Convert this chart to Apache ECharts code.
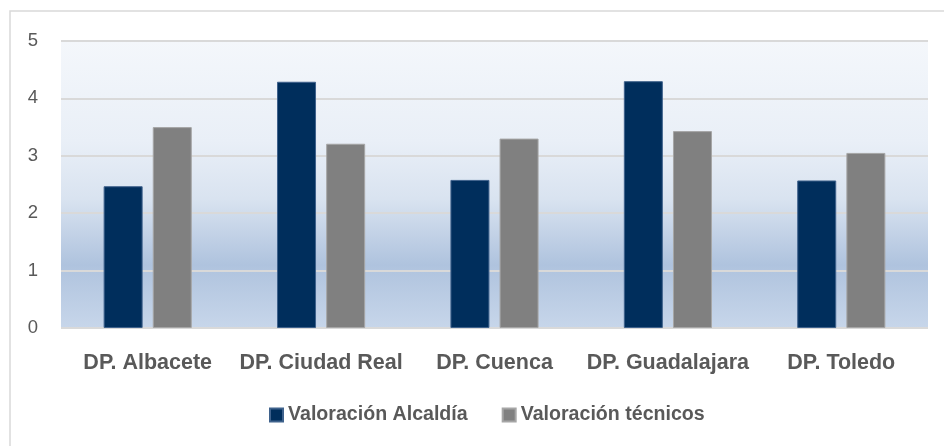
<!DOCTYPE html>
<html>
<head>
<meta charset="utf-8">
<script src="https://cdn.jsdelivr.net/npm/echarts@6/dist/echarts.min.js"></script>
<style>
  html, body { margin: 0; padding: 0; background: #fff; }
  #chart { width: 944px; height: 446px; }
</style>
</head>
<body>
<div id="chart"></div>
<script>
var categories = ['DP. Albacete', 'DP. Ciudad Real', 'DP. Cuenca', 'DP. Guadalajara', 'DP. Toledo'];
var alcaldia = [2.47, 4.29, 2.58, 4.30, 2.57];
var tecnicos = [3.50, 3.21, 3.30, 3.43, 3.05];
var yTicks = [0, 1, 2, 3, 4, 5];

var myChart = echarts.init(document.getElementById('chart'));

var option = {
  animation: false,
  backgroundColor: '#fff',
  graphic: [{
    type: 'rect',
    shape: { x: 10, y: 11, width: 940, height: 440 },
    style: { fill: 'none', stroke: '#d9d9d9', lineWidth: 1.5 },
    silent: true
  }],
  grid: {
    left: 61, right: 16, top: 41, bottom: 118,
    show: true,
    borderWidth: 0,
    backgroundColor: {
      type: 'linear', x: 0, y: 0, x2: 0, y2: 1,
      colorStops: [
        { offset: 0, color: '#f4f7fb' },
        { offset: 0.35, color: '#e9eff7' },
        { offset: 0.55, color: '#d9e3f0' },
        { offset: 0.78, color: '#afc3de' },
        { offset: 1, color: '#c7d6ea' }
      ]
    }
  },
  legend: {
    data: ['Valoración Alcaldía', 'Valoración técnicos'],
    left: 269,
    top: 405,
    padding: 0,
    itemWidth: 13,
    itemHeight: 13,
    itemGap: 34,
    icon: 'rect',
    textStyle: { color: '#595959', fontSize: 19.6, fontWeight: 'bold', fontFamily: 'Liberation Sans' }
  },
  xAxis: {
    type: 'category',
    data: categories,
    axisLine: { show: false },
    axisTick: { show: false },
    axisLabel: {
      interval: 0,
      margin: 24,
      color: '#595959',
      fontSize: 21.5,
      fontWeight: 'bold',
      fontFamily: 'Liberation Sans'
    }
  },
  yAxis: {
    type: 'value',
    min: yTicks[0],
    max: yTicks[yTicks.length - 1],
    interval: 1,
    axisLine: { show: false },
    axisTick: { show: false },
    axisLabel: { margin: 23, color: '#595959', fontSize: 18.5, fontFamily: 'Liberation Sans' },
    splitLine: { lineStyle: { color: '#d9d9d9', width: 2 } }
  },
  series: [{
    name: 'Valoración Alcaldía',
    type: 'bar',
    data: alcaldia,
    barWidth: 39,
    barGap: '26%',
    itemStyle: { color: '#002e5c', borderColor: '#3f628c', borderWidth: 1 }
  }, {
    name: 'Valoración técnicos',
    type: 'bar',
    data: tecnicos,
    barWidth: 39,
    itemStyle: { color: '#808080', borderColor: '#a6a6a6', borderWidth: 1 }
  }]
};

myChart.setOption(option);
window.addEventListener('resize', function () {
  myChart.resize();
});
</script>
</body>
</html>
